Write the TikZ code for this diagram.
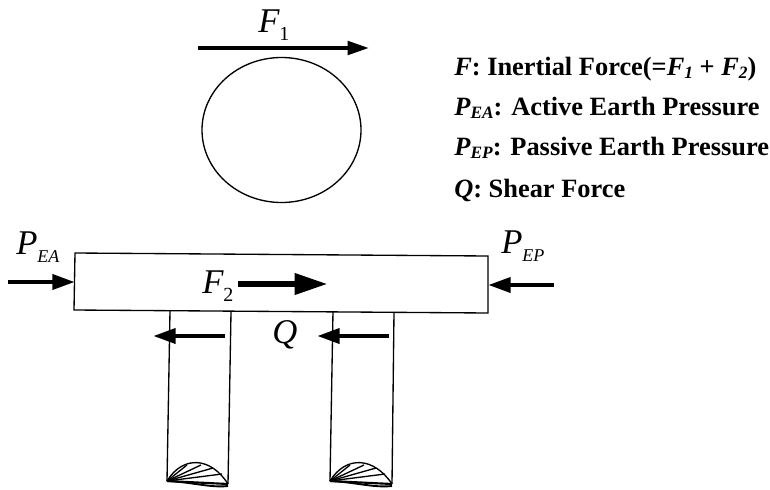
\documentclass[tikz,border=0pt]{standalone}
\usepackage{fontspec}
\setmainfont{Liberation Serif}
\usepackage{xcolor}
\usepackage{tikz}
\usetikzlibrary{arrows.meta, positioning, calc}

\tikzset{
  forcelabel/.style={inner sep=0pt, anchor=base west, font=\fontsize{26}{26}\selectfont\itshape},
  legendline/.style={inner sep=0pt, anchor=base west, font=\fontsize{19.8}{19.8}\selectfont\bfseries},
  thickarrow/.style={line width=3.5pt, -{Triangle[length=17pt,width=11pt]}},
  thinarrow/.style={line width=3pt, -{Triangle[length=16pt,width=10pt]}},
  bigarrow/.style={line width=5pt, -{Triangle[length=25pt,width=15pt]}},
  structure/.style={line width=1pt},
  fanline/.style={line width=1pt}
}
\newcommand{\legendsub}[1]{\raisebox{-2.5pt}{\fontsize{13}{13}\selectfont\textit{#1}}}
\newcommand{\digitsub}[1]{\raisebox{-6.5pt}{\fontsize{15}{15}\selectfont\upshape #1}}
\newcommand{\lettersub}[1]{\raisebox{-6.5pt}{\fontsize{13.5}{13.5}\selectfont #1}}

\begin{document}
\begin{tikzpicture}[x=0.75pt, y=-0.75pt]
        \useasboundingbox (0,0) rectangle (770,489);

        % Drum and top force
        \draw [structure] (281.5,130) ellipse (79.5 and 72.5);
        \coordinate (f1start) at (198,48);
        \coordinate (f1end) at (369,48);
        \draw [thinarrow] (f1start) -- (f1end);
        \node [forcelabel] (f1) at (258,32) {F\digitsub{1}};

        % Cap beam
        \coordinate (captl) at (75,253);
        \coordinate (captr) at (488,256);
        \coordinate (capbr) at (488,313);
        \coordinate (capbl) at (74,310);
        \draw [structure] (captl) -- (captr) -- (capbr) -- (capbl) -- cycle;

        % Piles
        \foreach \name/\xa/\xb/\xc/\xd in {left/170/231/167/228, right/333/394/330/392} {
          \coordinate (\name tl) at (\xa,311);
          \coordinate (\name tr) at (\xb,312);
          \coordinate (\name bl) at (\xc,481);
          \coordinate (\name br) at (\xd,484);
          \draw [structure] (\name tl) -- (\name bl);
          \draw [structure] (\name tr) -- (\name br);
          % Fan at the toe
          \draw [fanline] (\name bl) .. controls ($(\name bl)+(16,-26)$) and ($(\name bl)+(44,-24)$) .. (\name br);
          \draw [line width=1.4pt] (\name bl) .. controls ($(\name bl)+(24,1)$) and ($(\name bl)+(44,7)$) .. ($(\name br)+(0,2)$);
          \draw [line width=1.6pt] (\name bl) -- (\name br);
          \foreach \dx/\dy in {20/-16, 34/-16, 46/-13, 55/-7} {
            \draw [fanline] (\name bl) -- ($(\name bl)+(\dx,\dy)$);
          }
        }

        % Earth pressure
        \coordinate (peastart) at (8,282);
        \coordinate (peaend) at (75,282);
        \draw [thickarrow] (peastart) -- (peaend);
        \coordinate (pepstart) at (554,285);
        \coordinate (pepend) at (488,285);
        \draw [thickarrow] (pepstart) -- (pepend);
        \node [forcelabel] (pea) at (16,254) {P\lettersub{EA}};
        \node [forcelabel] (pep) at (501,253) {P\lettersub{EP}};

        % Inertial force in the beam
        \node [forcelabel] (f2) at (202,293) {F\digitsub{2}};
        \coordinate (f2start) at (238,284);
        \coordinate (f2end) at (328,284);
        \draw [bigarrow] (f2start) -- (f2end);

        % Shear
        \node [forcelabel] (q) at (272,343) {Q};
        \coordinate (qastart) at (225,336);
        \coordinate (qaend) at (153,336);
        \draw [thickarrow] (qastart) -- (qaend);
        \coordinate (qbstart) at (389,336);
        \coordinate (qbend) at (317,336);
        \draw [thickarrow] (qbstart) -- (qbend);

        % Legend
        \node [legendline] (legenda) at (454,75) {\textit{F}: Inertial Force(=\textit{F}\legendsub{1} + \textit{F}\legendsub{2})};
        \node [legendline] (legendb) at (454,115) {\textit{P}\legendsub{EA}: Active Earth Pressure};
        \node [legendline] (legendc) at (454,155) {\textit{P}\legendsub{EP}: Passive Earth Pressure};
        \node [legendline] (legendd) at (454,197) {\textit{Q}: Shear Force};
    \end{tikzpicture}
\end{document}
